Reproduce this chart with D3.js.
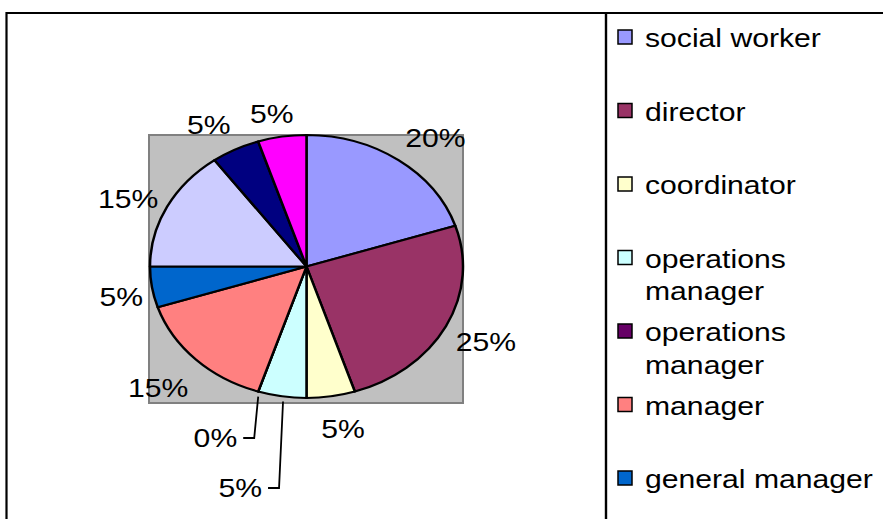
<!DOCTYPE html>
<html>
<head>
<meta charset="utf-8">
<script src="https://cdn.jsdelivr.net/npm/d3@7"></script>
<style>
  body { margin: 0; background: #fff; }
  text { font-family: "Liberation Sans", Arial, sans-serif; fill: #000; }
</style>
</head>
<body>
<div id="chart"></div>
<script>
// Pie chart (Excel style) - job roles share

// Data (the last three slice names are cut off in the legend)
const categories = ["social worker", "director", "coordinator", "operations manager",
    "operations manager", "manager", "general manager", null, null, null];
const values = [20, 25, 5, 5, 0, 15, 5, 15, 5, 5];
const colors = ["#9999FF", "#993366", "#FFFFCC", "#CCFFFF", "#660066",
    "#FF8080", "#0066CC", "#CCCCFF", "#000080", "#FF00FF"];

// Dimensions
const width = 883, height = 519;
const fontSize = 26, textStretch = 1.16;
const plot = { x0: 149, y0: 135, x1: 463, y1: 403 };
const center = { x: 306.5, y: 266.5 };
const ry = 131.5, stretch = 156.5 / 131.5;

const svg = d3.select("#chart")
    .append("svg")
    .attr("width", width)
    .attr("height", height);

// Outer frame + legend separator
svg.append("path")
    .attr("d", `M6.5,${height} V13 H${width}`)
    .attr("fill", "none")
    .attr("stroke", "#000")
    .attr("stroke-width", 2.2);
svg.append("line")
    .attr("x1", 606).attr("x2", 606)
    .attr("y1", 13).attr("y2", height)
    .attr("stroke", "#000")
    .attr("stroke-width", 2.4);

// Plot area
svg.append("rect")
    .attr("x", plot.x0)
    .attr("y", plot.y0)
    .attr("width", plot.x1 - plot.x0)
    .attr("height", plot.y1 - plot.y0)
    .attr("fill", "#C0C0C0")
    .attr("stroke", "#808080")
    .attr("stroke-width", 2);

// Pie
const pie = d3.pie().sort(null).value(d => d.value);
const arcs = pie(values.map((v, i) => ({ value: v, i: i })));
const arc = d3.arc().innerRadius(0).outerRadius(ry);

const pieG = svg.append("g")
    .attr("transform", `translate(${center.x},${center.y}) scale(${stretch},1)`);

pieG.selectAll("path")
    .data(arcs)
    .join("path")
    .attr("d", arc)
    .attr("fill", d => colors[d.data.i])
    .attr("stroke", "#000")
    .attr("stroke-width", 2.1)
    .attr("stroke-linejoin", "round");

// Point on the (stretched) ellipse at angle a, radius factor k
function ellipsePoint(a, k) {
    return [center.x + stretch * ry * k * Math.sin(a), center.y - ry * k * Math.cos(a)];
}

const total = d3.sum(values);
const pct = v => Math.round(v / total * 100) + "%";

// Labels that are pulled down with leader lines: slice index -> label y
const leaderY = { 3: 488, 4: 438 };
// small placement tweaks for the outside labels (Excel box placement)
const labelNudge = { 0: [14, 4], 1: [5, 1], 2: [6, 0], 5: [-10, 5], 6: [8, 4],
    7: [-4, 7], 8: [-9, 5], 9: [-4, 9] };

arcs.forEach(d => {
    const mid = (d.startAngle + d.endAngle) / 2;
    const i = d.data.i;
    if (leaderY[i] !== undefined) {
        const [sx, sy] = ellipsePoint(mid, 1.04);
        const ty = leaderY[i];
        svg.append("path")
            .attr("d", `M${sx + 2},${sy} L${sx - 2},${ty} H${sx - 13}`)
            .attr("fill", "none")
            .attr("stroke", "#000")
            .attr("stroke-width", 1.8);
        svg.append("text")
            .attr("transform", `translate(${sx - 19},${ty}) scale(${textStretch},1)`)
            .attr("text-anchor", "end")
            .attr("dy", "0.36em")
            .attr("font-size", fontSize)
            .text(pct(d.data.value));
    } else {
        const [lx, ly] = ellipsePoint(mid, 1.25);
        const [nx, ny] = labelNudge[i] || [0, 0];
        svg.append("text")
            .attr("transform", `translate(${lx + nx},${ly + ny}) scale(${textStretch},1)`)
            .attr("text-anchor", "middle")
            .attr("dy", "0.36em")
            .attr("font-size", fontSize)
            .text(pct(d.data.value));
    }
});

// Legend
const legend = svg.append("g");
const legendX = 618, legendTextX = 645, legendTop = 47, legendStep = 73.5, lineH = 33;
const maxW = (width - legendTextX - 8) / textStretch;

categories.forEach((name, i) => {
    if (name === null) return;
    const base = legendTop + i * legendStep;
    if (base > height) return;

    legend.append("rect")
        .attr("x", legendX)
        .attr("y", base - 17)
        .attr("width", 14)
        .attr("height", 14)
        .attr("fill", colors[i])
        .attr("stroke", "#000")
        .attr("stroke-width", 1.5);

    const t = legend.append("text")
        .attr("transform", `translate(${legendTextX},${base}) scale(${textStretch},1)`)
        .attr("font-size", fontSize);

    // simple word wrap
    const words = name.split(" ");
    let line = [], lineNo = 0;
    let tspan = t.append("tspan").attr("x", 0).attr("y", 0);
    words.forEach(w => {
        line.push(w);
        tspan.text(line.join(" "));
        if (tspan.node().getComputedTextLength() > maxW && line.length > 1) {
            line.pop();
            tspan.text(line.join(" "));
            line = [w];
            lineNo++;
            tspan = t.append("tspan").attr("x", 0).attr("y", lineNo * lineH).text(w);
        }
    });
});
</script>
</body>
</html>
